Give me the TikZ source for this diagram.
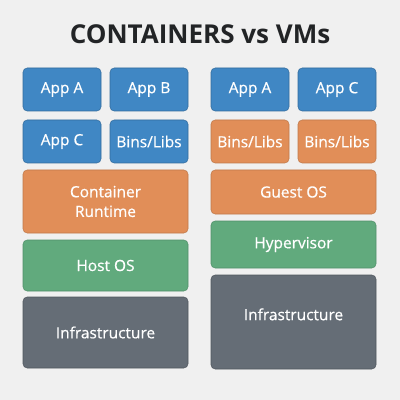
\documentclass[tikz,border=0pt]{standalone}
\usepackage{fontspec}
\setmainfont{Open Sans}
\newfontfamily\boxfont[FakeBold=0.6]{Open Sans}
\usetikzlibrary{positioning}

\definecolor{bgGray}{RGB}{240,240,240}
\definecolor{appBlue}{RGB}{64,135,196}
\definecolor{libOrange}{RGB}{225,142,88}
\definecolor{osGreen}{RGB}{97,170,125}
\definecolor{infraSlate}{RGB}{101,109,118}
\definecolor{titleInk}{RGB}{34,36,38}

\begin{document}
\begin{tikzpicture}[
    layer/.style={rectangle, rounded corners=3pt, inner sep=0pt, outer sep=0pt,
                  align=center, text=white, font=\boxfont\fontsize{11}{14}\selectfont,
                  minimum width=4.125cm},
    app/.style={layer, fill=appBlue, draw=appBlue!80!black,
                minimum width=1.95cm, minimum height=1.075cm},
    lib/.style={layer, fill=libOrange, draw=libOrange!85!black},
    os/.style={layer, fill=osGreen, draw=osGreen!85!black},
    infra/.style={layer, fill=infraSlate, draw=infraSlate!80!black}
]
    \useasboundingbox[fill=bgGray] (0,0) rectangle (10,-10);

    \node[font=\fontsize{18.5}{21}\selectfont\bfseries, text=titleInk] (title) at (5,-0.85)
        {CONTAINERS vs VMs};

    % containers
    \node[app, anchor=north west] (cAppA) at (0.575,-1.7) {App A};
    \node[app, right=0.225cm of cAppA] (cAppB) {App B};
    \node[app, below=0.225cm of cAppA] (cAppC) {App C};
    \node[app, below=0.225cm of cAppB] (cBins) {Bins/Libs};
    \node[lib, minimum height=1.575cm, below=0.175cm of cAppC.south west, anchor=north west]
        (runtime) {Container\\Runtime};
    \node[os, minimum height=1.275cm, below=0.175cm of runtime] (hostos) {Host OS};
    \node[infra, minimum height=1.775cm, below=0.15cm of hostos] (cInfra) {Infrastructure};

    % virtual machines
    \node[app, anchor=north west] (vAppA) at (5.275,-1.7) {App A};
    \node[app, right=0.225cm of vAppA] (vAppC) {App C};
    \node[app, lib, minimum width=1.95cm, below=0.225cm of vAppA] (vBinsA) {Bins/Libs};
    \node[app, lib, minimum width=1.95cm, below=0.225cm of vAppC] (vBinsC) {Bins/Libs};
    \node[lib, minimum height=1.1cm, below=0.175cm of vBinsA.south west, anchor=north west]
        (guestos) {Guest OS};
    \node[os, minimum height=1.175cm, below=0.175cm of guestos] (hyper) {Hypervisor};
    \node[infra, minimum height=2.35cm, below=0.175cm of hyper] (vInfra)
        {\raisebox{11pt}{Infrastructure}};
\end{tikzpicture}
\end{document}
